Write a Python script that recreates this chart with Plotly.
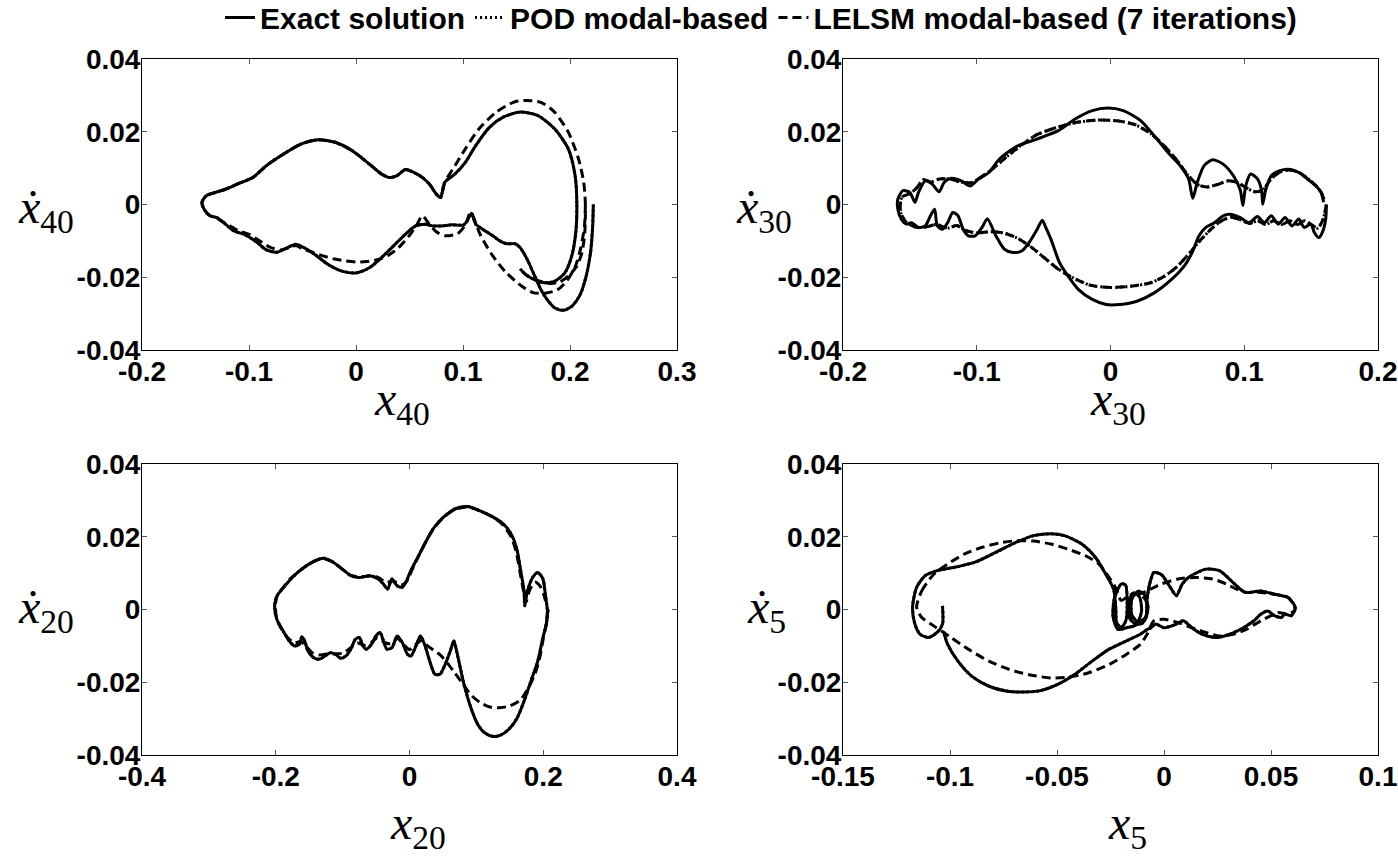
import plotly.graph_objects as go

# ---------------- data ----------------
# Panel 1: x40
exact_x40 = [0.2218,0.2212,0.2192,0.2151,0.2096,0.2016,0.1936,0.1856,0.1785,0.1728,0.1663,0.160,0.1535,0.1487,0.1407,0.1343,0.1279,0.1183,0.1119,0.108,0.1038,0.1006,0.0894,0.0798,0.0718,0.0638,0.0558,0.0478,0.0381,0.0253,0.0125,0.0,-0.0131,-0.026,-0.0388,-0.0484,-0.0564,-0.0644,-0.074,-0.0837,-0.093,-0.1045,-0.114,-0.122,-0.130,-0.1365,-0.142,-0.144,-0.140,-0.1317,-0.122,-0.111,-0.0965,-0.0837,-0.0676,-0.0516,-0.0356,-0.0196,-0.0035,0.0125,0.0237,0.0317,0.0381,0.0462,0.0542,0.0622,0.0686,0.075,0.079,0.083,0.0926,0.1022,0.1119,0.1247,0.1375,0.1535,0.1696,0.1856,0.1984,0.2048,0.2064,0.2054,0.2016,0.1952,0.1856,0.176,0.1663,0.1583,0.1535]
exact_v40 = [0.0,-0.0059,-0.0132,-0.0197,-0.0247,-0.0280,-0.0291,-0.0284,-0.0261,-0.0234,-0.0192,-0.0151,-0.0119,-0.0108,-0.0108,-0.0100,-0.0086,-0.0068,-0.0054,-0.0024,-0.0045,-0.0056,-0.0056,-0.0059,-0.0059,-0.0054,-0.0059,-0.0077,-0.0105,-0.0142,-0.0174,-0.0188,-0.0183,-0.0165,-0.0137,-0.0119,-0.0109,-0.0119,-0.0131,-0.0125,-0.0103,-0.0082,-0.0073,-0.0054,-0.0036,-0.0031,-0.0013,0.0006,0.0024,0.0033,0.0042,0.0056,0.0074,0.0107,0.0139,0.0166,0.0178,0.0171,0.0148,0.0111,0.0084,0.0074,0.0079,0.0096,0.0088,0.0074,0.0056,0.0029,0.0019,0.0061,0.0084,0.0116,0.0162,0.0212,0.0240,0.0254,0.0245,0.0208,0.0153,0.0079,0.0,-0.0077,-0.0142,-0.0188,-0.0211,-0.0215,-0.0206,-0.0192,-0.0177]
lelsm_x40 = [0.2144,0.2135,0.210,0.205,0.197,0.188,0.178,0.166,0.155,0.140,0.1275,0.1166,0.107,0.1025,0.095,0.083,0.075,0.0686,0.062,0.057,0.050,0.040,0.030,0.020,0.010,0.0,-0.010,-0.020,-0.030,-0.040,-0.050,-0.056,-0.062,-0.070,-0.080,-0.090,-0.100,-0.110,-0.120,-0.130,-0.137,-0.142,-0.144,-0.140,-0.1317,-0.122,-0.111,-0.0965,-0.0837,-0.0676,-0.0516,-0.0356,-0.0196,-0.0035,0.0125,0.0237,0.0317,0.0381,0.0462,0.0542,0.0622,0.0686,0.075,0.079,0.083,0.0926,0.1022,0.115,0.1311,0.1471,0.1567,0.1728,0.1856,0.1984,0.208,0.2128,0.2144,0.2138,0.2112,0.2064,0.1984,0.1904,0.1824,0.1744,0.1663,0.1583,0.1535]
lelsm_v40 = [0.0,-0.006,-0.012,-0.017,-0.021,-0.0235,-0.0243,-0.0243,-0.0225,-0.0186,-0.014,-0.0086,-0.0022,-0.0055,-0.0080,-0.0086,-0.0075,-0.0055,-0.0031,-0.0055,-0.0085,-0.0118,-0.0140,-0.0152,-0.0157,-0.0158,-0.0155,-0.0150,-0.0142,-0.0132,-0.0122,-0.0113,-0.0118,-0.0125,-0.0118,-0.0100,-0.0082,-0.0072,-0.0055,-0.0038,-0.0030,-0.0012,0.0006,0.0024,0.0033,0.0042,0.0056,0.0074,0.0107,0.0139,0.0166,0.0178,0.0171,0.0148,0.0111,0.0084,0.0074,0.0079,0.0096,0.0088,0.0074,0.0056,0.0029,0.0019,0.0061,0.0107,0.0153,0.0208,0.0254,0.0281,0.0286,0.0281,0.0254,0.0199,0.0125,0.0061,0.0,-0.0077,-0.0132,-0.0169,-0.0197,-0.0213,-0.0217,-0.0213,-0.0206,-0.0192,-0.0178]
pod_x40 = exact_x40      # POD curve lies on the exact one in this panel
pod_v40 = exact_v40

# Panel 2: x30
exact_x30 = [0.1614,0.1609,0.1588,0.1557,0.1524,0.1498,0.1447,0.1408,0.1356,0.1305,0.1254,0.1202,0.115,0.1099,0.1035,0.097,0.0893,0.0842,0.0777,0.0713,0.0662,0.061,0.0559,0.0456,0.0327,0.0198,0.007,-0.0033,-0.0136,-0.0239,-0.0317,-0.0381,-0.0445,-0.0484,-0.051,-0.0548,-0.06,-0.0664,-0.0728,-0.0793,-0.0857,-0.0921,-0.096,-0.1012,-0.1063,-0.1102,-0.114,-0.1179,-0.1218,-0.1256,-0.1295,-0.1315,-0.1346,-0.1385,-0.1436,-0.1488,-0.1526,-0.1565,-0.159,-0.159,-0.1552,-0.150,-0.1462,-0.1436,-0.1385,-0.1333,-0.1282,-0.1243,-0.1192,-0.1115,-0.105,-0.0986,-0.0909,-0.083,-0.070,-0.055,-0.039,-0.0265,-0.0136,-0.002,0.0095,0.0224,0.0327,0.043,0.052,0.0584,0.0615,0.0649,0.070,0.0764,0.0842,0.0919,0.097,0.099,0.101,0.1048,0.11,0.113,0.1138,0.116,0.1202,0.1266,0.1331,0.1408,0.1472,0.1537,0.1575,0.1593]
exact_v30 = [-0.0004,-0.004,-0.0073,-0.0091,-0.0077,-0.0054,-0.0063,-0.004,-0.0059,-0.0036,-0.0054,-0.0031,-0.005,-0.0033,-0.005,-0.0036,-0.0027,-0.0031,-0.005,-0.0063,-0.0086,-0.0132,-0.0165,-0.0206,-0.0243,-0.0266,-0.0275,-0.0275,-0.0261,-0.0234,-0.0197,-0.016,-0.0096,-0.0063,-0.0043,-0.0068,-0.010,-0.0128,-0.0132,-0.0123,-0.0086,-0.0039,-0.0063,-0.0086,-0.0086,-0.0068,-0.0031,-0.0022,-0.005,-0.0068,-0.0059,-0.0013,-0.0031,-0.0059,-0.0063,-0.005,-0.0054,-0.004,-0.0013,0.0015,0.0038,0.0033,0.0006,0.0033,0.0065,0.0056,0.0035,0.0061,0.0072,0.0065,0.0051,0.007,0.0088,0.0125,0.016,0.018,0.0203,0.0235,0.0258,0.0265,0.0258,0.0231,0.0189,0.0143,0.0107,0.007,0.0017,0.0061,0.0107,0.0123,0.0111,0.0079,0.004,-0.0003,0.005,0.0084,0.007,0.0038,0.0001,0.004,0.0079,0.0093,0.0097,0.0088,0.007,0.0051,0.0033,0.0006]
lelsm_x30 = [0.1614,0.159,0.155,0.150,0.145,0.140,0.134,0.128,0.122,0.116,0.110,0.104,0.097,0.090,0.083,0.076,0.068,0.060,0.050,0.040,0.030,0.015,0.0,-0.015,-0.030,-0.040,-0.050,-0.060,-0.070,-0.080,-0.090,-0.100,-0.108,-0.115,-0.122,-0.130,-0.138,-0.146,-0.153,-0.157,-0.156,-0.150,-0.145,-0.140,-0.134,-0.128,-0.120,-0.112,-0.104,-0.097,-0.088,-0.078,-0.066,-0.055,-0.040,-0.025,-0.010,0.005,0.018,0.030,0.040,0.050,0.058,0.065,0.072,0.080,0.088,0.095,0.102,0.108,0.114,0.120,0.127,0.134,0.141,0.148,0.154,0.158,0.160]
lelsm_v30 = [0.0,-0.004,-0.0065,-0.0055,-0.0045,-0.0055,-0.0045,-0.0055,-0.0045,-0.0055,-0.0045,-0.0052,-0.0042,-0.0035,-0.0045,-0.0065,-0.0095,-0.013,-0.0170,-0.0198,-0.0215,-0.0225,-0.0228,-0.0222,-0.0198,-0.0175,-0.0145,-0.0115,-0.0092,-0.0078,-0.0075,-0.0078,-0.0072,-0.0058,-0.0065,-0.0055,-0.0062,-0.0062,-0.0048,-0.0020,0.0020,0.0030,0.0045,0.0068,0.0062,0.0070,0.0070,0.0062,0.0060,0.0075,0.0098,0.0130,0.0165,0.0192,0.0212,0.0226,0.0232,0.0230,0.0220,0.0195,0.0162,0.0120,0.0080,0.0055,0.0048,0.0055,0.0065,0.0060,0.0045,0.0035,0.0040,0.0070,0.0090,0.0095,0.0088,0.0070,0.0050,0.0030,0.0008]
pod_x30 = lelsm_x30      # POD curve lies on the LELSM one in this panel
pod_v30 = lelsm_v30

# Panel 3: x20
exact_x20 = [0.207,0.2046,0.1995,0.1918,0.1815,0.1713,0.161,0.1482,0.1354,0.1251,0.1123,0.1021,0.0918,0.0815,0.0738,0.0687,0.0662,0.061,0.0533,0.0456,0.0379,0.0303,0.0226,0.0164,0.0097,0.002,-0.0031,-0.0108,-0.0185,-0.0262,-0.0338,-0.039,-0.0441,-0.0503,-0.0569,-0.0646,-0.0697,-0.0749,-0.081,-0.0877,-0.0954,-0.1031,-0.1108,-0.1185,-0.1262,-0.1354,-0.1441,-0.1518,-0.1569,-0.161,-0.1646,-0.1723,-0.18,-0.1877,-0.1954,-0.2005,-0.2015,-0.1979,-0.1903,-0.1774,-0.1672,-0.1544,-0.1415,-0.1287,-0.1159,-0.1005,-0.0877,-0.0749,-0.0595,-0.0467,-0.039,-0.0328,-0.0262,-0.0185,-0.0108,-0.0056,0.002,0.0123,0.0226,0.0354,0.0508,0.0687,0.0867,0.1046,0.1251,0.1405,0.1533,0.161,0.1662,0.1713,0.1723,0.1764,0.1841,0.1918,0.1995,0.2031,0.2062,0.2046]
exact_v20 = [0.0,-0.004,-0.0077,-0.0142,-0.0197,-0.0252,-0.0298,-0.033,-0.0346,-0.0349,-0.0339,-0.0316,-0.027,-0.0206,-0.0142,-0.010,-0.0086,-0.0114,-0.0151,-0.0178,-0.0178,-0.0142,-0.0096,-0.0073,-0.010,-0.0128,-0.0123,-0.0091,-0.0073,-0.0105,-0.0109,-0.0086,-0.0063,-0.0073,-0.0096,-0.0109,-0.010,-0.0077,-0.0082,-0.0109,-0.0128,-0.0134,-0.0123,-0.0119,-0.0128,-0.0137,-0.0131,-0.0114,-0.0086,-0.0075,-0.0096,-0.010,-0.0086,-0.0063,-0.004,-0.0013,0.0015,0.0038,0.0056,0.0084,0.0102,0.012,0.0134,0.0141,0.0132,0.0111,0.0093,0.0088,0.0093,0.0084,0.007,0.0056,0.0084,0.0065,0.0061,0.0074,0.0107,0.0143,0.018,0.0222,0.0254,0.0277,0.0283,0.0272,0.0254,0.0235,0.0203,0.0162,0.0107,0.0051,0.001,0.0051,0.0088,0.0102,0.0084,0.0042,-0.0004,-0.004]
lelsm_x20 = [0.207,0.2046,0.200,0.195,0.188,0.178,0.165,0.150,0.135,0.120,0.105,0.092,0.080,0.068,0.057,0.046,0.036,0.027,0.018,0.010,0.0,-0.008,-0.018,-0.028,-0.038,-0.048,-0.058,-0.068,-0.078,-0.090,-0.100,-0.112,-0.124,-0.136,-0.146,-0.155,-0.163,-0.172,-0.182,-0.192,-0.199,-0.2005,-0.197,-0.190,-0.178,-0.165,-0.150,-0.135,-0.125,-0.112,-0.100,-0.088,-0.075,-0.060,-0.047,-0.035,-0.024,-0.012,-0.004,0.004,0.014,0.024,0.036,0.050,0.068,0.086,0.104,0.124,0.140,0.152,0.160,0.165,0.170,0.174,0.180,0.188,0.195,0.201,0.205]
lelsm_v20 = [0.0,-0.004,-0.008,-0.013,-0.0175,-0.0215,-0.025,-0.0265,-0.027,-0.0268,-0.0255,-0.0235,-0.0205,-0.0175,-0.0148,-0.0125,-0.0112,-0.0100,-0.0085,-0.0095,-0.0110,-0.0098,-0.0080,-0.0095,-0.0090,-0.0078,-0.0092,-0.0098,-0.0092,-0.0108,-0.0120,-0.0122,-0.0122,-0.0125,-0.0118,-0.0100,-0.0088,-0.0092,-0.0078,-0.0050,-0.0020,0.0015,0.0042,0.0058,0.0085,0.0105,0.0125,0.0138,0.0138,0.0128,0.0110,0.0094,0.0090,0.0092,0.0088,0.0075,0.0078,0.0068,0.0078,0.0110,0.0148,0.0185,0.0222,0.0252,0.0275,0.0282,0.0272,0.0255,0.0232,0.0200,0.0155,0.0105,0.0055,0.0020,0.0055,0.0075,0.0065,0.0040,0.0010]
pod_x20 = exact_x20
pod_v20 = exact_v20

# Panel 4: x5
exact_x5 = [-0.1035,-0.1035,-0.106,-0.110,-0.114,-0.1164,-0.1175,-0.1156,-0.1116,-0.106,-0.0979,-0.0883,-0.0786,-0.069,-0.0609,-0.0529,-0.0465,-0.0384,-0.032,-0.0272,-0.0235,-0.0225,-0.0222,-0.0200,-0.0178,-0.0172,-0.0180,-0.0200,-0.0232,-0.0238,-0.0215,-0.0175,-0.0130,-0.0105,-0.0115,-0.0145,-0.0165,-0.0160,-0.0130,-0.0090,-0.0075,-0.0090,-0.0120,-0.0150,-0.0150,-0.0120,-0.0085,-0.0080,-0.0065,-0.0047,-0.0010,0.0025,0.0058,0.0085,0.0114,0.0195,0.0259,0.0323,0.0379,0.0452,0.0516,0.058,0.0613,0.0596,0.0564,0.0548,0.0516,0.0484,0.0452,0.042,0.0371,0.0307,0.0243,0.0178,0.013,0.009,0.005,0.0,-0.0039,-0.0060,-0.0079,-0.0111,-0.0175,-0.0256,-0.0336,-0.0416,-0.0497,-0.0577,-0.0658,-0.0738,-0.0818,-0.0899,-0.0963,-0.1011,-0.1030]
exact_v5 = [0.001,-0.004,-0.0063,-0.0077,-0.0068,-0.004,0.0006,0.0061,0.0093,0.0107,0.0116,0.013,0.0157,0.0185,0.0203,0.0208,0.0203,0.018,0.0143,0.0097,0.0055,0.0,-0.0035,-0.0050,-0.0030,0.0020,0.0068,0.0070,0.0030,-0.0020,-0.0055,-0.0050,-0.0042,-0.0005,0.0035,0.0045,0.0015,-0.0025,-0.0040,-0.0030,0.0005,0.0040,0.0050,0.0030,-0.0015,-0.0035,-0.0020,0.0025,0.0075,0.0102,0.0095,0.0065,0.0038,0.0070,0.0088,0.0111,0.0107,0.0074,0.0047,0.0051,0.0042,0.0033,0.0006,-0.0017,-0.0013,-0.0022,-0.0017,-0.0004,-0.0013,-0.0031,-0.005,-0.0068,-0.0077,-0.0068,-0.005,-0.0031,-0.0042,-0.005,-0.004,-0.0050,-0.0055,-0.0068,-0.0086,-0.0109,-0.0142,-0.0178,-0.0206,-0.0223,-0.0227,-0.0224,-0.0211,-0.0183,-0.0142,-0.0096,-0.0060]
lelsm_x5 = [-0.1156,-0.1132,-0.1076,-0.1011,-0.0931,-0.085,-0.077,-0.069,-0.0609,-0.0529,-0.0449,-0.0368,-0.0304,-0.0256,-0.0223,-0.0200,-0.0160,-0.0120,-0.0085,-0.0080,-0.0100,-0.0135,-0.0158,-0.0150,-0.0115,-0.0079,-0.0014,0.0066,0.0146,0.0227,0.0291,0.0339,0.0387,0.0452,0.0516,0.058,0.0613,0.058,0.0532,0.05,0.0452,0.0387,0.0323,0.0259,0.0195,0.013,0.0066,0.0,-0.0047,-0.0079,-0.0111,-0.0175,-0.0256,-0.0352,-0.0449,-0.0529,-0.0625,-0.0722,-0.0818,-0.0915,-0.0995,-0.1076,-0.1132,-0.1156]
lelsm_v5 = [0.0006,0.0051,0.0097,0.0125,0.0153,0.0171,0.0183,0.0189,0.0188,0.018,0.0166,0.0148,0.0125,0.0088,0.0056,0.0025,0.0040,0.0045,0.0025,-0.0010,-0.0038,-0.0040,-0.0010,0.0030,0.0042,0.0051,0.007,0.0084,0.0088,0.0084,0.007,0.0056,0.0047,0.0047,0.0042,0.0033,0.0,-0.0013,-0.0008,-0.0017,-0.0031,-0.0054,-0.0068,-0.0073,-0.0063,-0.005,-0.0036,-0.0027,-0.0031,-0.0068,-0.0096,-0.0123,-0.0151,-0.0174,-0.0186,-0.0188,-0.018,-0.0165,-0.0142,-0.0109,-0.0077,-0.0045,-0.0022,0.0006]
pod_x5 = exact_x5
pod_v5 = exact_v5

# Tick values / labels
y_ticks = [-0.04, -0.02, 0, 0.02, 0.04]
y_ticklabels = ["-0.04", "-0.02", "0", "0.02", "0.04"]
x40_ticks = [-0.2, -0.1, 0, 0.1, 0.2, 0.3]
x40_ticklabels = ["-0.2", "-0.1", "0", "0.1", "0.2", "0.3"]
x30_ticks = [-0.2, -0.1, 0, 0.1, 0.2]
x30_ticklabels = ["-0.2", "-0.1", "0", "0.1", "0.2"]
x20_ticks = [-0.4, -0.2, 0, 0.2, 0.4]
x20_ticklabels = ["-0.4", "-0.2", "0", "0.2", "0.4"]
x5_ticks = [-0.15, -0.1, -0.05, 0, 0.05, 0.1]
x5_ticklabels = ["-0.15", "-0.1", "-0.05", "0", "0.05", "0.1"]

series_names = ["Exact solution", "POD modal-based", "LELSM modal-based (7 iterations)"]

# ---------------- figure ----------------
W, H = 1398, 857
fig = go.Figure()

panels = [
    ("x", "y", exact_x40, exact_v40, pod_x40, pod_v40, lelsm_x40, lelsm_v40),
    ("x2", "y2", exact_x30, exact_v30, pod_x30, pod_v30, lelsm_x30, lelsm_v30),
    ("x3", "y3", exact_x20, exact_v20, pod_x20, pod_v20, lelsm_x20, lelsm_v20),
    ("x4", "y4", exact_x5, exact_v5, pod_x5, pod_v5, lelsm_x5, lelsm_v5),
]

LW = 3
SM = 0.7
for i, (xa, ya, ex, ev, px, pv, lx, lv) in enumerate(panels):
    show = (i == 0)
    fig.add_trace(go.Scatter(x=px, y=pv, mode="lines", xaxis=xa, yaxis=ya,
                             name=series_names[1], legendrank=2, showlegend=show,
                             line=dict(color="black", width=LW, dash="2px,3px",
                                       shape="spline", smoothing=SM)))
    fig.add_trace(go.Scatter(x=ex, y=ev, mode="lines", xaxis=xa, yaxis=ya,
                             name=series_names[0], legendrank=1, showlegend=show,
                             line=dict(color="black", width=LW, shape="spline", smoothing=SM)))
    fig.add_trace(go.Scatter(x=lx, y=lv, mode="lines", xaxis=xa, yaxis=ya,
                             name=series_names[2], legendrank=3, showlegend=show,
                             line=dict(color="black", width=LW, dash="9px,5px",
                                       shape="spline", smoothing=SM)))

def px2fx(p):
    return p / W

def px2fy(p):
    return 1 - p / H

left_dom = [px2fx(142), px2fx(677)]
right_dom = [px2fx(843), px2fx(1378)]
top_dom = [px2fy(350), px2fy(59)]
bot_dom = [px2fy(755), px2fy(464)]

tickfont = dict(family="Liberation Sans", size=28, color="black", weight="bold")

def xaxis(dom, anchor, rng, tv, tt):
    return dict(domain=dom, anchor=anchor, range=rng, tickvals=tv, ticktext=tt,
                showgrid=False, zeroline=False, showline=True, linecolor="black",
                linewidth=1, mirror="ticks", ticks="inside", ticklen=5,
                tickcolor="#555", tickfont=tickfont, automargin=False,
                ticklabelstandoff=-4)

def yaxis(dom, anchor):
    return dict(domain=dom, anchor=anchor, range=[-0.04, 0.04], tickvals=y_ticks,
                ticktext=y_ticklabels, showgrid=False, zeroline=False, showline=True,
                linecolor="black", linewidth=1, mirror="ticks", ticks="inside",
                ticklen=5, tickcolor="#555", tickfont=tickfont, ticklabelstandoff=-5,
                automargin=False)

fig.update_layout(
    width=W, height=H, margin=dict(l=0, r=0, t=0, b=0, autoexpand=False),
    paper_bgcolor="white", plot_bgcolor="white",
    xaxis=xaxis(left_dom, "y", [-0.2, 0.3], x40_ticks, x40_ticklabels),
    yaxis=yaxis(top_dom, "x"),
    xaxis2=xaxis(right_dom, "y2", [-0.2, 0.2], x30_ticks, x30_ticklabels),
    yaxis2=yaxis(top_dom, "x2"),
    xaxis3=xaxis(left_dom, "y3", [-0.4, 0.4], x20_ticks, x20_ticklabels),
    yaxis3=yaxis(bot_dom, "x3"),
    xaxis4=xaxis(right_dom, "y4", [-0.15, 0.1], x5_ticks, x5_ticklabels),
    yaxis4=yaxis(bot_dom, "x4"),
    showlegend=True,
    legend=dict(orientation="h", x=761 / W, xanchor="center", y=1.01, yanchor="top",
                font=dict(family="Liberation Sans", size=30, color="black", weight="bold"),
                bgcolor="rgba(0,0,0,0)", itemwidth=30, tracegroupgap=0),
)

labfont = dict(family="Liberation Serif, DejaVu Serif", size=48, color="black")
ylabels = [("<i>ẋ</i><sub>40</sub>", 46, 210), ("<i>ẋ</i><sub>30</sub>", 764, 210),
           ("<i>ẋ</i><sub>20</sub>", 46, 610), ("<i>ẋ</i><sub>5</sub>", 766, 610)]
xlabels = [("<i>x</i><sub>40</sub>", 402, 402), ("<i>x</i><sub>30</sub>", 1118, 402),
           ("<i>x</i><sub>20</sub>", 418, 826), ("<i>x</i><sub>5</sub>", 1127, 826)]
for txt, px_, py_ in ylabels + xlabels:
    fig.add_annotation(text=txt, x=px2fx(px_), y=px2fy(py_), xref="paper", yref="paper",
                       xanchor="center", yanchor="middle", showarrow=False, font=labfont)

fig.write_html("out.html")
